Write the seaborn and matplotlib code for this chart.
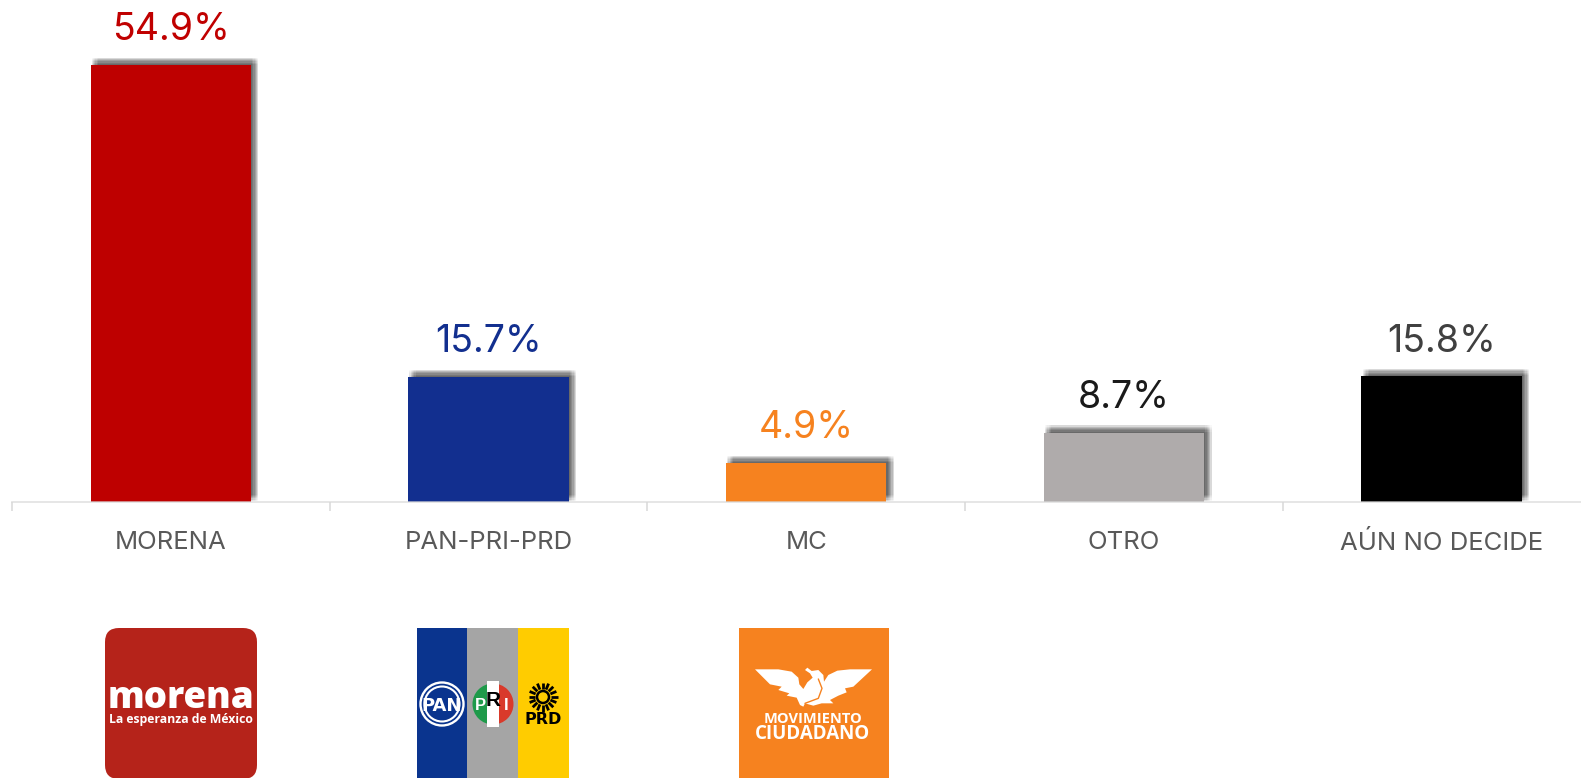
#%% import tools and libraries
import matplotlib
matplotlib.use('Agg')
import numpy as np
import pandas as pd
import seaborn as sb
import matplotlib.pyplot as plt
import matplotlib.patheffects as pe
from matplotlib.patches import Rectangle, FancyBboxPatch, Circle, Polygon, Wedge

#%% data
partidos = ['MORENA', 'PAN-PRI-PRD', 'MC', 'OTRO', 'AÚN NO DECIDE']
valores = [54.9, 15.7, 4.9, 8.7, 15.8]
col_barras = ['#BE0000', '#122F8F', '#F6821F', '#AFABAB', '#000000']
col_textos = ['#C00000', '#122F8F', '#F6821F', '#1A1A1A', '#404040']

df = pd.DataFrame({'partido': partidos, 'valor': valores})

#%% figure, everything placed in pixels of the 1581x778 image
W, H = 1581, 778
base_y = 502
px_por_pct = 7.96
ymax = 60
sb.set_style('white')
plt.rcParams['font.family'] = ['Inter', 'DejaVu Sans']
fig = plt.figure(figsize=(W / 100, H / 100), dpi=100)
# axes runs past the right edge of the image, as the axis line does in the reference
ax = fig.add_axes([12 / W, 1 - base_y / H, 5 * 317.7 / W, ymax * px_por_pct / H])
ax.patch.set_alpha(0)

sb.barplot(data=df, x='partido', y='valor', hue='partido', palette=col_barras,
           width=0.505, legend=False, saturation=1, ax=ax)
ax.set_xlim(-0.5, 4.5)
ax.set_ylim(0, ymax)
ax.set_xlabel('')
ax.set_ylabel('')
ax.set_yticks([])

# blurred shadow up and to the right of the bars: a grid of faint copies
sombra = []
for dx in np.arange(0.8, 6.0, 0.9):
    for dy in np.arange(0.8, 6.0, 0.9):
        sombra.append(pe.SimplePatchShadow(offset=(dx, dy), shadow_rgbFace='#333333', alpha=0.03, rho=1))
sombra.append(pe.Normal())

for cont, col in zip(ax.containers, col_textos):
    for b in cont:
        b.set_path_effects(sombra)
        b.set_linewidth(0)
    ax.bar_label(cont, fmt='%.1f%%', color=col, fontsize=27, padding=12)

# axis with ticks between the categories
for s in ['top', 'left', 'right']:
    ax.spines[s].set_visible(False)
ax.spines['bottom'].set_color('#D9D9D9')
ax.spines['bottom'].set_linewidth(1.3)
ax.spines['bottom'].set_alpha(0.7)
ax.set_xticks(np.arange(6) - 0.5)
ax.set_xticklabels([])
ax.tick_params(axis='x', which='major', length=6.5, width=1.1, color='#D9D9D9', bottom=True)
ax.set_xticks(np.arange(5), minor=True)
ax.set_xticklabels(partidos, minor=True)
ax.tick_params(axis='x', which='minor', length=0, pad=21, labelsize=18.5, labelcolor='#595959')

#%% logos under the chart, drawn on a full-figure pixel axes
lg = fig.add_axes([0, 0, 1, 1])
lg.set_xlim(0, W)
lg.set_ylim(H, 0)
lg.axis('off')
lg.patch.set_alpha(0)

# morena
lg.add_patch(FancyBboxPatch((119, 642), 124, 123, boxstyle='round,pad=14,rounding_size=14',
                            fc='#B5231A', ec='none'))
lg.text(181, 708, 'morena', color='white', fontsize=26.5, fontweight='heavy', ha='center', va='baseline', family='Open Sans')
lg.text(181, 723, 'La esperanza de México', color='white', fontsize=8.8, fontweight='bold', ha='center', va='baseline', family='Open Sans')

# coalition
lg.add_patch(Rectangle((417, 628), 50, 150, fc='#0A348E', ec='none'))
lg.add_patch(Rectangle((467, 628), 51, 150, fc='#A5A5A5', ec='none'))
lg.add_patch(Rectangle((518, 628), 51, 150, fc='#FFCC00', ec='none'))
lg.add_patch(Circle((442, 704), 21.5, fc='#0A348E', ec='white', lw=1.7))
lg.add_patch(Circle((442, 704), 17.5, fc='#0A348E', ec='white', lw=1.5))
lg.text(442, 711, 'PAN', color='white', fontsize=13, fontweight='bold', ha='center', va='baseline', family='Liberation Sans Narrow')
lg.add_patch(Wedge((493, 704), 20.5, 90, 270, fc='#1E9A4A', ec='none'))
lg.add_patch(Wedge((493, 704), 20.5, -90, 90, fc='#D93A2B', ec='none'))
lg.add_patch(Rectangle((486.7, 681), 12.6, 46, fc='white', ec='none'))
lg.text(480, 710, 'P', color='white', fontsize=12, fontweight='bold', ha='center', va='baseline', family='Liberation Sans')
lg.text(493, 706, 'R', color='black', fontsize=15, fontweight='bold', ha='center', va='baseline', family='Liberation Sans')
lg.text(506, 710, 'I', color='white', fontsize=12, fontweight='bold', ha='center', va='baseline', family='Liberation Sans')
# sun of the PRD
sol = (543, 697)
for ang in np.arange(0, 360, 22.5):
    a = np.deg2rad(ang)
    lg.plot([sol[0] + 8 * np.cos(a), sol[0] + 14.5 * np.cos(a)],
            [sol[1] + 8 * np.sin(a), sol[1] + 14.5 * np.sin(a)], color='black', lw=2, solid_capstyle='butt')
lg.add_patch(Circle(sol, 6, fc='none', ec='black', lw=1.8))
lg.text(543, 724, 'PRD', color='black', fontsize=11.5, fontweight='bold', ha='center', va='baseline', family='Liberation Sans Narrow')

# movimiento ciudadano
lg.add_patch(Rectangle((739, 628), 150, 150, fc='#F6821F', ec='none'))
# eagle outline, traced in the 3x crop starting at (750, 655)
aguila_x = [15, 85, 125, 145, 148, 160, 172, 188, 180, 165, 172, 185, 205, 220, 222, 235, 262, 300, 366,
            310, 285, 290, 265, 240, 250, 215, 190, 165, 160, 150, 140, 110, 118, 85, 95, 60]
aguila_y = [43, 43, 50, 68, 88, 102, 82, 68, 55, 45, 38, 48, 45, 60, 80, 60, 47, 43, 43,
            95, 100, 112, 122, 135, 145, 145, 152, 145, 155, 150, 128, 122, 115, 105, 95, 88]
lg.add_patch(Polygon([(750 + a / 3, 655 + b / 3) for a, b in zip(aguila_x, aguila_y)],
                     closed=True, fc='white', ec='none'))
cinta_x = [205, 216, 205, 165]
cinta_y = [72, 100, 130, 145]
lg.plot([750 + a / 3 for a in cinta_x], [655 + b / 3 for b in cinta_y], color='#F6821F', lw=1)
lg.text(813, 723, 'MOVIMIENTO', color='white', fontsize=10.5, fontweight='bold', ha='center', va='baseline', family='Open Sans')
lg.text(813, 739, 'CIUDADANO', color='white', fontsize=13.5, fontweight='bold', ha='center', va='baseline', family='Open Sans')

plt.savefig('out.png', dpi=100)
